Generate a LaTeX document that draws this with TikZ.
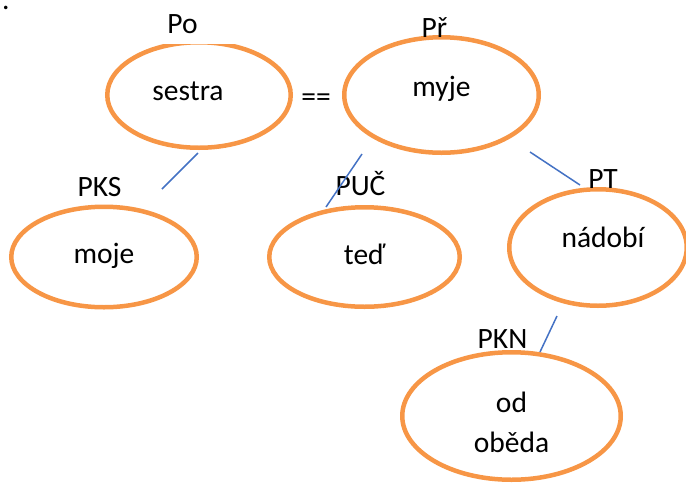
\documentclass[tikz,border=0pt]{standalone}
\usepackage{fontspec}
\setmainfont{Carlito}
\usetikzlibrary{shapes.geometric}
\usetikzlibrary{positioning}
\definecolor{bubbleorange}{HTML}{F79646}
\definecolor{linkblue}{HTML}{4472C4}

\begin{document}
\begin{tikzpicture}[x=1pt, y=-1pt, font=\fontsize{29.5}{35}\selectfont,
        bubble/.style={ellipse, draw=bubbleorange, line width=4.5pt, inner sep=0pt, align=center,
            text height=20pt, text depth=6pt},
        tag/.style={inner sep=0pt, text height=19pt, text depth=0pt},
        link/.style={draw=linkblue, line width=1.5pt}]
        \useasboundingbox (0,0) rectangle (686,483);

        % clauses
        \node[bubble, minimum width=183.5, minimum height=105.5, text depth=10pt] (sestra) at (199,95) {sestra\hspace{22pt}};
        \node[bubble, minimum width=194.5, minimum height=115.5, text depth=18pt] (myje) at (441.5,95) {myje};
        \node[bubble, minimum width=185.5, minimum height=100.5, text depth=8pt] (moje) at (104,257) {moje};
        \node[bubble, minimum width=190.5, minimum height=99.5] (ted) at (364.5,257) {teď};
        \node[bubble, minimum width=177.5, minimum height=116.5, text depth=20pt] (nadobi) at (598,247.5) {\hspace{10pt}nádobí};
        \node[bubble, minimum width=218.5, minimum height=127.5, text height=78pt] (obed) at (511.5,416) {od\\[5pt]oběda};

        % labels
        \node[inner sep=0pt, anchor=base west] (dot) at (1.8,9.5) {.};
        \node[tag, fill=white, minimum width=120, minimum height=41] (po) at (182.5,23.5) {Po};
        \node[tag] (pr) at (434.5,27.5) {Př};
        \node[inner sep=0pt] (eq) at (316,100) {==};
        \node[tag] (pks) at (99.5,187) {PKS};
        \node[tag] (puc) at (360.5,185.5) {PUČ};
        \node[tag] (pt) at (603,178.5) {PT};
        \node[tag] (pkn) at (502.5,338.5) {PKN};

        % line ends
        \coordinate (sestra-a) at (198,153);
        \coordinate (pks-b) at (162,189);
        \coordinate (myje-a) at (362,154);
        \coordinate (puc-b) at (326,207);
        \coordinate (myje-c) at (530,152);
        \coordinate (pt-b) at (580,185);
        \coordinate (nadobi-a) at (557,316);
        \coordinate (pkn-b) at (540,352);

        \draw[link] (sestra-a) -- (pks-b);
        \draw[link] (myje-a) -- (puc-b);
        \draw[link] (myje-c) -- (pt-b);
        \draw[link] (nadobi-a) -- (pkn-b);
    \end{tikzpicture}
\end{document}
